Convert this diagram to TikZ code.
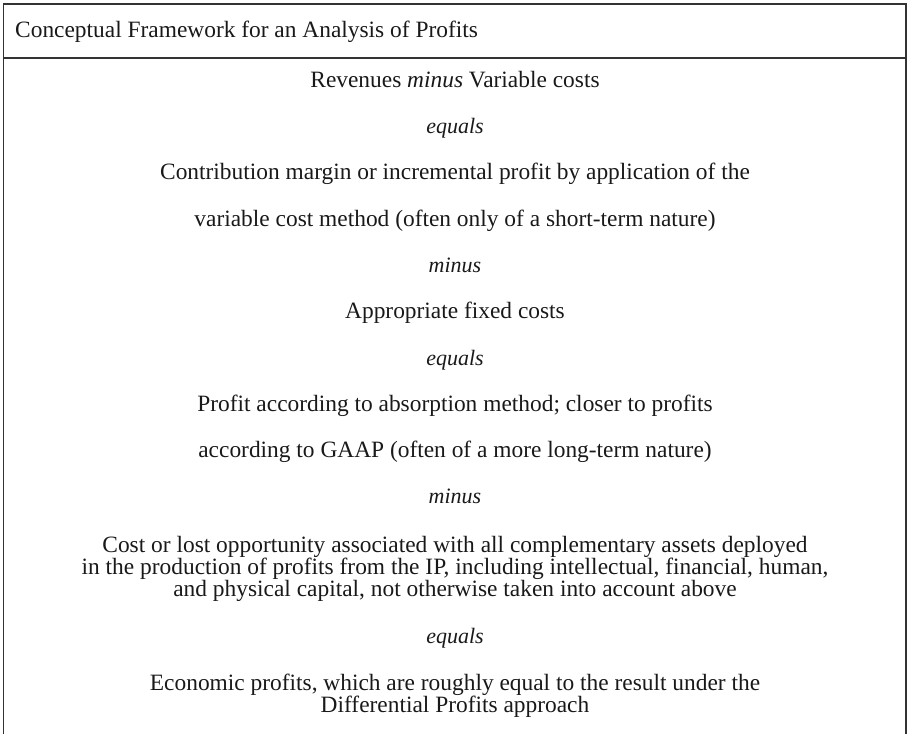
\documentclass[tikz,border=0pt]{standalone}
\usepackage{fontspec}
\setmainfont{Liberation Serif}
\colorlet{framecol}{black!80}
\colorlet{inkcol}{black!90}

\begin{document}
\begin{tikzpicture}[x=1pt, y=-1pt,
    line/.style={inner sep=0pt, anchor=base, text=inkcol,
                 font=\fontsize{23.4}{22}\selectfont},
    opword/.style={line, font=\fontsize{22}{22}\selectfont\itshape},
    block/.style={line, align=center}]

  \useasboundingbox (0,0) rectangle (910,734);

  % Define nodes (multi-line blocks sit on the baseline of their last line)
  \node[line, anchor=base west] (title) at (15,37.5)
        {Conceptual Framework for an Analysis of Profits};
  \node[line]   (rev)   at (455,87)  {Revenues \emph{minus} Variable costs};
  \node[opword] (eq_1)  at (455,133) {equals};
  \node[line]   (cm_1)  at (455,179) {Contribution margin or incremental profit by application of the};
  \node[line]   (cm_2)  at (455,226) {variable cost method (often only of a short-term nature)};
  \node[opword] (mi_1)  at (455,272) {minus};
  \node[line]   (fix)   at (455,318) {Appropriate fixed costs};
  \node[opword] (eq_2)  at (455,365) {equals};
  \node[line]   (abs_1) at (455,411) {Profit according to absorption method; closer to profits};
  \node[line]   (abs_2) at (455,457) {according to GAAP (often of a more long-term nature)};
  \node[opword] (mi_2)  at (455,503) {minus};
  \node[block]  (opp)   at (455,596)
        {Cost or lost opportunity associated with all complementary assets deployed\\
         in the production of profits from the IP, including intellectual, financial, human,\\
         and physical capital, not otherwise taken into account above};
  \node[opword] (eq_3)  at (455,643) {equals};
  \node[block]  (econ)  at (455,712)
        {Economic profits, which are roughly equal to the result under the\\
         Differential Profits approach};

  % Draw the frame
  \draw[framecol, line width=1.3pt] (3.5,734) -- (3.5,4) -- (906,4) -- (906,734);
  \draw[framecol, line width=2.2pt] (3.5,58) -- (906,58);

\end{tikzpicture}
\end{document}
